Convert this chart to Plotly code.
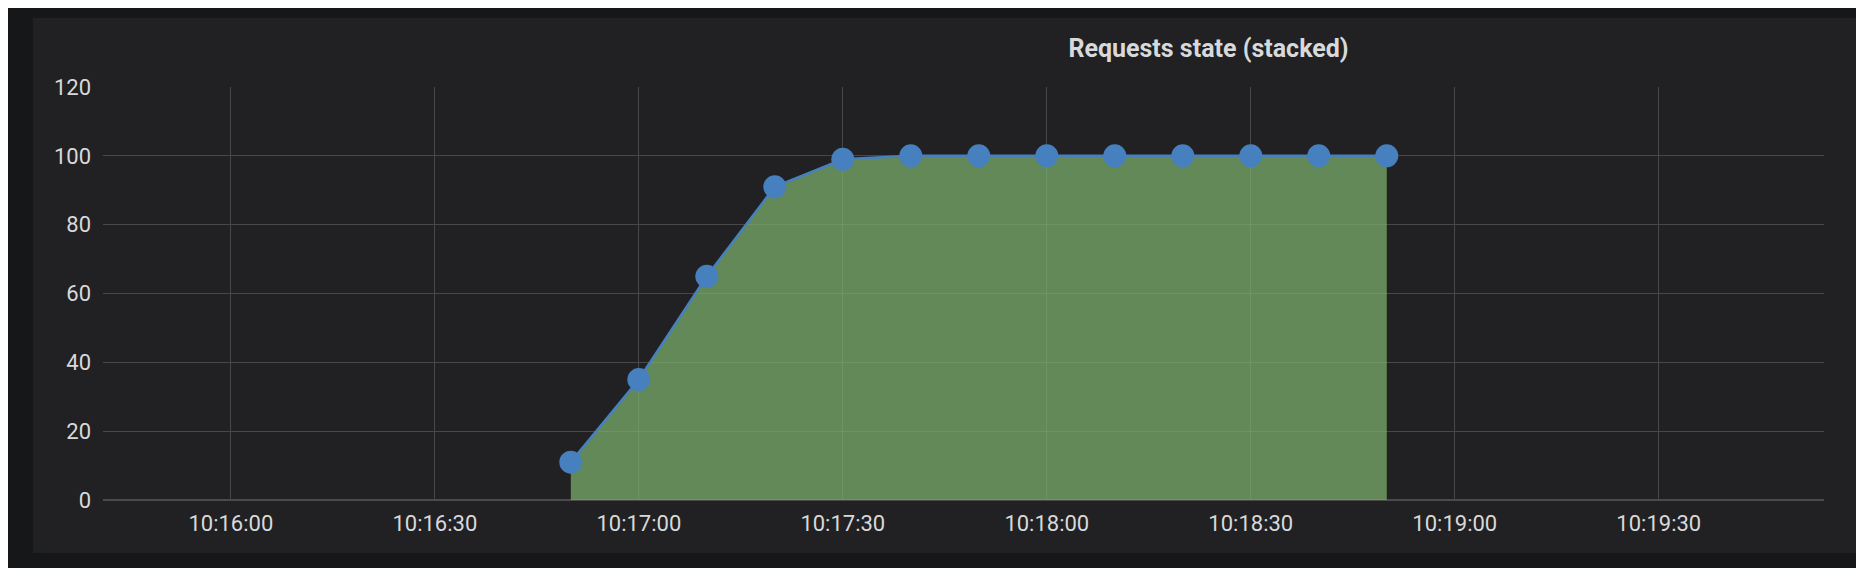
import plotly.graph_objects as go

# ---- data ----
day = "2024-01-01 "
times = ["10:16:50", "10:17:00", "10:17:10", "10:17:20", "10:17:30", "10:17:40", "10:17:50",
         "10:18:00", "10:18:10", "10:18:20", "10:18:30", "10:18:40", "10:18:50"]
requests = [11, 35, 65, 91, 99, 100, 100, 100, 100, 100, 100, 100, 100]
x_range = ["10:15:41.2", "10:19:54.3"]
y_ticks = [0, 20, 40, 60, 80, 100, 120]
title_text = "Requests state (stacked)"

# page body has an 8px margin; figure is sized to fit inside the window
OFF = 8
W, H = 1864 - 2 * OFF, 576 - 2 * OFF
L, R, T, B = 103 - OFF, 1864 - 1824 - OFF, 87 - OFF, 576 - 500 - OFF
pw, ph = W - L - R, H - T - B

def px_x(px):
    return (px - OFF - L) / pw

def px_y(py):
    return (H - B - (py - OFF)) / ph

fig = go.Figure()
fig.add_trace(go.Scatter(
    x=[day + t for t in times], y=requests,
    mode="lines+markers",
    line=dict(color="#4680BE", width=2.5),
    marker=dict(color="#4680BE", size=23),
    fill="tozeroy", fillcolor="rgba(126,178,109,0.72)",
    hoverinfo="x+y", showlegend=False,
))

grid = "#484849"
font_col = "#d8d9da"
fig.update_layout(
    width=W, height=H,
    margin=dict(l=L, r=R, t=T, b=B, pad=0),
    paper_bgcolor="#161719",
    plot_bgcolor="#212124",
    font=dict(family="Roboto, sans-serif", size=22, color=font_col),
    title=dict(text=title_text, x=px_x(1208.5), xref="paper", xanchor="center",
               y=1 - (48 - OFF) / H, yref="container", yanchor="middle",
               font=dict(size=25, color=font_col, weight="bold")),
    xaxis=dict(type="date", range=[day + x_range[0], day + x_range[1]],
               tick0=day + "10:16:00", dtick=30000, tickformat="%H:%M:%S",
               showgrid=True, gridcolor=grid, gridwidth=1,
               showline=False, zeroline=False, ticks="",
               ticklabelstandoff=8, tickfont=dict(size=22, color=font_col)),
    yaxis=dict(range=[0, 120], tickvals=y_ticks,
               showgrid=True, gridcolor=grid, gridwidth=1,
               zeroline=True, zerolinecolor="#4a4a4b", zerolinewidth=2,
               showline=False, ticks="", ticklabelstandoff=11,
               tickfont=dict(size=22, color=font_col)),
    shapes=[dict(type="rect", xref="paper", yref="paper",
                 x0=px_x(33), x1=px_x(1880), y0=px_y(553), y1=px_y(18),
                 fillcolor="#212124", line=dict(width=0), layer="below")],
)

fig.write_html("out.html")
